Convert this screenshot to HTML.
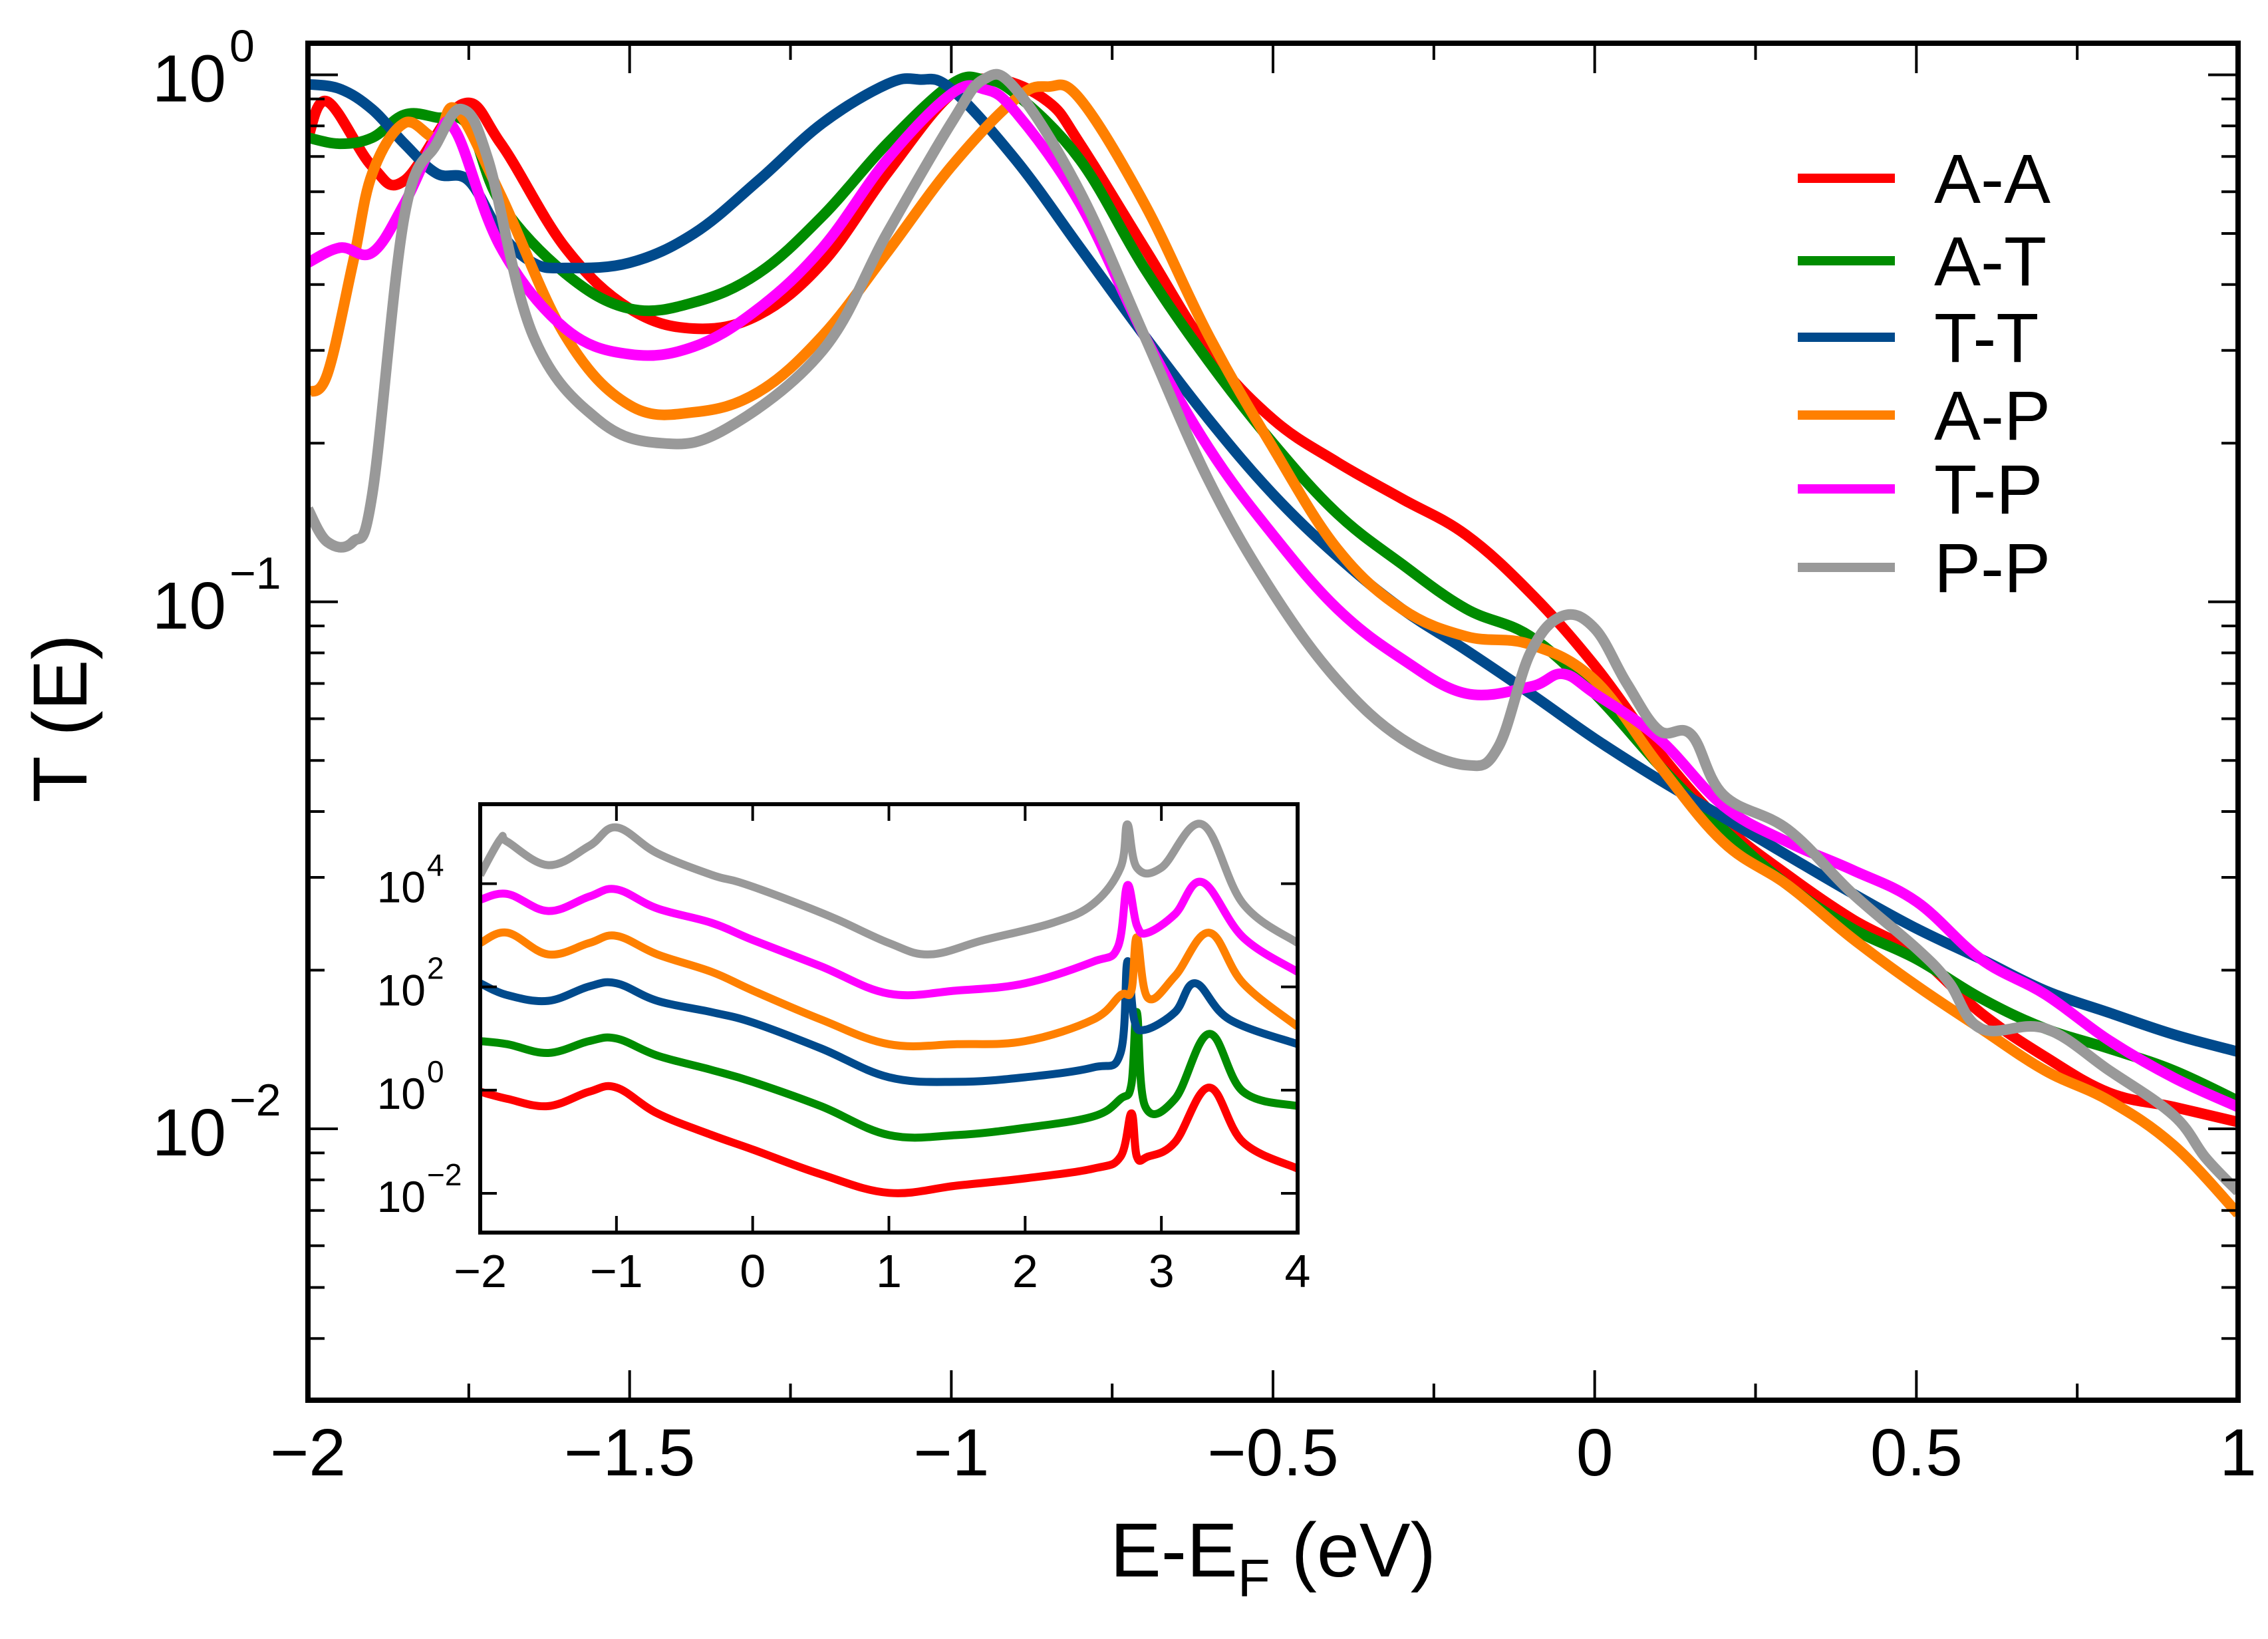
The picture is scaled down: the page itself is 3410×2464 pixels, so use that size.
<!DOCTYPE html>
<html><head><meta charset="utf-8"><style>
html,body{margin:0;padding:0;background:#fff;}
svg{display:block;font-family:"Liberation Sans",sans-serif;}
</style></head><body>
<svg id="chart" width="3410" height="2464" viewBox="0 0 3410 2464" xmlns="http://www.w3.org/2000/svg">
<g id="main"></g><g id="inset"></g>
</svg>
<script>
// ---------- main chart data ----------
const seriesNames = ["A-A","A-T","T-T","A-P","T-P","P-P"];
const seriesColors = ["#ff0000","#008c00","#004a8c","#ff8000","#ff00ff","#999999"];
const xAA = [-2,-1.97,-1.9,-1.85,-1.76,-1.7,-1.6,-1.5,-1.4,-1.3,-1.2,-1.1,-1.0,-0.93,-0.85,-0.8,-0.7,-0.6,-0.5,-0.4,-0.3,-0.2,-0.1,0,0.1,0.2,0.3,0.4,0.5,0.6,0.7,0.8,0.9,1.0];
const yAA = [0.76,0.89,0.67,0.63,0.88,0.74,0.47,0.36,0.33,0.35,0.44,0.65,0.92,0.98,0.89,0.74,0.47,0.30,0.222,0.184,0.157,0.134,0.104,0.0757,0.0518,0.0378,0.0303,0.025,0.0214,0.0166,0.0137,0.0117,0.011,0.0103];
const xAT = [-2,-1.95,-1.9,-1.85,-1.8,-1.75,-1.7,-1.6,-1.5,-1.4,-1.3,-1.2,-1.1,-1.0,-0.95,-0.9,-0.8,-0.7,-0.6,-0.5,-0.4,-0.3,-0.2,-0.1,0,0.1,0.2,0.3,0.4,0.5,0.6,0.7,0.8,0.9,1.0];
const yAT = [0.76,0.74,0.76,0.84,0.83,0.80,0.57,0.42,0.36,0.37,0.42,0.54,0.74,0.96,0.98,0.92,0.69,0.43,0.286,0.2,0.147,0.118,0.097,0.086,0.067,0.049,0.037,0.029,0.024,0.021,0.0177,0.0155,0.0142,0.0129,0.0113];
const xTT = [-2,-1.95,-1.9,-1.85,-1.8,-1.75,-1.7,-1.65,-1.6,-1.5,-1.4,-1.3,-1.2,-1.1,-1.05,-1.0,-0.9,-0.8,-0.7,-0.6,-0.5,-0.4,-0.3,-0.2,-0.1,0,0.1,0.2,0.3,0.4,0.5,0.6,0.7,0.8,0.9,1.0];
const yTT = [0.96,0.94,0.86,0.74,0.65,0.63,0.5,0.44,0.43,0.44,0.5,0.63,0.81,0.96,0.98,0.94,0.69,0.47,0.32,0.222,0.16,0.122,0.097,0.081,0.067,0.055,0.046,0.039,0.033,0.028,0.024,0.021,0.0183,0.0166,0.0151,0.014];
const xAP = [-2,-1.97,-1.93,-1.9,-1.85,-1.8,-1.77,-1.7,-1.6,-1.5,-1.4,-1.3,-1.2,-1.1,-1.0,-0.9,-0.85,-0.8,-0.7,-0.6,-0.5,-0.4,-0.3,-0.2,-0.1,0,0.1,0.2,0.3,0.4,0.5,0.6,0.7,0.8,0.9,1.0];
const yAP = [0.25,0.27,0.44,0.65,0.81,0.76,0.86,0.59,0.32,0.236,0.229,0.25,0.32,0.46,0.67,0.9,0.95,0.9,0.57,0.32,0.196,0.126,0.097,0.086,0.083,0.071,0.049,0.035,0.029,0.023,0.0187,0.0155,0.0129,0.0113,0.0093,0.0069];
const xTP = [-2,-1.95,-1.9,-1.85,-1.8,-1.77,-1.7,-1.6,-1.5,-1.4,-1.3,-1.2,-1.1,-1.0,-0.95,-0.9,-0.8,-0.7,-0.6,-0.5,-0.4,-0.3,-0.2,-0.1,-0.05,0,0.1,0.2,0.3,0.4,0.5,0.6,0.7,0.8,0.9,1.0];
const yTP = [0.44,0.47,0.46,0.57,0.76,0.78,0.47,0.33,0.295,0.305,0.36,0.47,0.69,0.92,0.94,0.85,0.57,0.32,0.196,0.134,0.097,0.078,0.067,0.069,0.073,0.067,0.055,0.041,0.035,0.031,0.027,0.021,0.018,0.0147,0.0125,0.011];
const xPP = [-2,-1.97,-1.93,-1.9,-1.85,-1.8,-1.76,-1.72,-1.65,-1.55,-1.45,-1.35,-1.2,-1.1,-1.0,-0.95,-0.9,-0.8,-0.7,-0.6,-0.5,-0.4,-0.3,-0.2,-0.15,-0.1,-0.05,0,0.05,0.1,0.15,0.2,0.3,0.4,0.5,0.55,0.6,0.7,0.8,0.9,0.95,1.0];
const yPP = [0.15,0.13,0.13,0.16,0.54,0.74,0.86,0.69,0.32,0.222,0.2,0.213,0.3,0.5,0.81,0.98,0.94,0.6,0.32,0.17,0.104,0.071,0.055,0.049,0.053,0.08,0.094,0.089,0.07,0.057,0.056,0.043,0.037,0.028,0.022,0.019,0.0155,0.0155,0.0129,0.0106,0.0088,0.0076];
const xTickLabels = ["-2","-1.5","-1","-0.5","0","0.5","1"];
const xTickValues = [-2,-1.5,-1,-0.5,0,0.5,1];
const yTickExps = [0,-1,-2];

// ---------- inset data (log10 T) ----------
const ixAA = [-2,-1.8,-1.5,-1.2,-1,-0.7,-0.3,0,0.5,1,1.5,2,2.5,2.7,2.78,2.82,2.9,3.1,3.35,3.6,4];
const iyAA = [-0.03,-0.17,-0.31,-0.03,0.05,-0.45,-0.87,-1.15,-1.63,-1.99,-1.85,-1.71,-1.52,-1.29,-0.45,-1.29,-1.29,-1.01,0.05,-1.01,-1.52];
const ixAT = [-2,-1.8,-1.5,-1.2,-1,-0.7,-0.3,0,0.5,1,1.5,2,2.5,2.7,2.78,2.82,2.88,3.1,3.35,3.6,4];
const iyAT = [0.95,0.89,0.72,0.95,1.0,0.67,0.39,0.16,-0.31,-0.87,-0.87,-0.73,-0.51,-0.17,0.11,1.51,-0.31,-0.17,1.09,-0.03,-0.31];
const ixTT = [-2,-1.8,-1.5,-1.2,-1,-0.7,-0.3,0,0.5,1,1.5,2,2.5,2.7,2.75,2.8,2.88,3.1,3.25,3.5,4];
const iyTT = [2.07,1.84,1.73,2.01,2.07,1.73,1.51,1.31,0.81,0.25,0.16,0.25,0.44,0.72,2.49,1.37,1.17,1.51,2.07,1.37,0.89];
const ixAP = [-2,-1.8,-1.5,-1.2,-1,-0.7,-0.3,0,0.5,1,1.5,2,2.5,2.7,2.78,2.82,2.9,3.1,3.35,3.6,4];
const iyAP = [2.85,3.05,2.63,2.85,2.99,2.63,2.29,1.93,1.37,0.89,0.89,0.95,1.37,1.84,1.93,2.96,1.79,2.21,3.05,2.07,1.23];
const ixTP = [-2,-1.8,-1.5,-1.2,-1,-0.7,-0.3,0,0.5,1,1.5,2,2.5,2.68,2.75,2.82,2.9,3.1,3.3,3.6,4];
const iyTP = [3.69,3.80,3.47,3.75,3.89,3.52,3.24,2.91,2.40,1.87,1.93,2.07,2.49,2.77,3.97,3.19,3.05,3.41,4.03,2.96,2.29];
const ixPP = [-2,-1.85,-1.8,-1.5,-1.2,-1,-0.7,-0.3,-0.1,0.2,0.6,1,1.3,1.7,2.2,2.5,2.7,2.75,2.82,3.0,3.3,3.6,4];
const iyPP = [4.17,4.87,4.81,4.36,4.73,5.09,4.59,4.17,4.03,3.75,3.33,2.85,2.63,2.91,3.24,3.61,4.31,5.15,4.31,4.31,5.15,3.61,2.85];
const insetXTicks = [-2,-1,0,1,2,3,4];
const insetYExps = [4,2,0,-2];

const NS = "http://www.w3.org/2000/svg";
function mk(parent, tag, attrs){const e=document.createElementNS(NS,tag);for(const k in attrs)e.setAttribute(k,attrs[k]);parent.appendChild(e);return e;}
function smooth(pts){
  let d='M'+pts[0][0].toFixed(1)+','+pts[0][1].toFixed(1);
  for(let i=0;i<pts.length-1;i++){
    const p0=pts[Math.max(0,i-1)],p1=pts[i],p2=pts[i+1],p3=pts[Math.min(pts.length-1,i+2)];
    const t=0.18;
    const c1x=p1[0]+(p2[0]-p0[0])*t, c1y=p1[1]+(p2[1]-p0[1])*t;
    const c2x=p2[0]-(p3[0]-p1[0])*t, c2y=p2[1]-(p3[1]-p1[1])*t;
    d+=' C'+c1x.toFixed(1)+','+c1y.toFixed(1)+' '+c2x.toFixed(1)+','+c2y.toFixed(1)+' '+p2[0].toFixed(1)+','+p2[1].toFixed(1);
  }
  return d;
}

// main axes
const L=463,R=3365,T=65,B=2105;
const xMin=-2,xMax=1, yTop=0.06, yBot=-2.515;
const xs=v=>L+(v-xMin)/(xMax-xMin)*(R-L);
const ys=v=>T+(yTop-Math.log10(v))/(yTop-yBot)*(B-T);
const main=document.getElementById('main');

const mainX=[xAA,xAT,xTT,xAP,xTP,xPP], mainY=[yAA,yAT,yTT,yAP,yTP,yPP];
const clip=mk(main,'clipPath',{id:'mclip'}); mk(clip,'rect',{x:L,y:T,width:R-L,height:B-T});
const lines=mk(main,'g',{'clip-path':'url(#mclip)'});
for(let s=0;s<6;s++){
  const pts=mainX[s].map((x,i)=>[xs(x),ys(mainY[s][i])]);
  const p=mk(lines,'path',{d:smooth(pts),fill:'none',stroke:seriesColors[s],'stroke-width':16,'stroke-linejoin':'round'});
  
  
}
const frame=mk(main,'rect',{x:L,y:T,width:R-L,height:B-T,fill:'none',stroke:'#000','stroke-width':8});


for(let k=0;k<=12;k++){
  const v=xMin+k*0.25, X=xs(v), len=(k%2===0)?45:25;
  mk(main,'line',{x1:X,y1:B,x2:X,y2:B-len,stroke:'#000','stroke-width':4});
  mk(main,'line',{x1:X,y1:T,x2:X,y2:T+len,stroke:'#000','stroke-width':4});
}
xTickValues.forEach((v,i)=>{
  const t=mk(main,'text',{x:xs(v),y:2218,'font-size':100,'text-anchor':'middle'});
  t.textContent=xTickLabels[i].replace('-','\u2212');
  
  
});
for(let e=-3;e<=0;e++){
  for(let m=1;m<=9;m++){
    const v=m*Math.pow(10,e); const lv=Math.log10(v);
    if(lv>yTop||lv<yBot)continue;
    const Y=ys(v), len=(m===1)?45:25;
    mk(main,'line',{x1:L,y1:Y,x2:L+len,y2:Y,stroke:'#000','stroke-width':4});
    mk(main,'line',{x1:R,y1:Y,x2:R-len,y2:Y,stroke:'#000','stroke-width':4});
  }
}
yTickExps.forEach(e=>{
  const t=mk(main,'text',{x:340,y:ys(Math.pow(10,e))+40,'font-size':100,'text-anchor':'end'});
  t.textContent='10';
  
  
  const s=mk(main,'text',{x:345,y:ys(Math.pow(10,e))-20,'font-size':68,'text-anchor':'start'});
  s.textContent=(e<0?'\u2212'+(-e):''+e);
});
const xt=mk(main,'text',{x:1914,y:2370,'font-size':115,'text-anchor':'middle'});
xt.innerHTML='E-E<tspan font-size="80" dy="30">F</tspan><tspan dy="-30"> (eV)</tspan>';


const yt=mk(main,'text',{x:0,y:0,'font-size':115,'text-anchor':'middle',transform:'translate(130,1080) rotate(-90)'});
yt.textContent='T (E)';


const legY=[268,392,507,624,735,853];
for(let s=0;s<6;s++){
  const g=mk(main,'g',{});
  
  
  mk(g,'line',{x1:2703,y1:legY[s],x2:2849,y2:legY[s],stroke:seriesColors[s],'stroke-width':14});
  const t=mk(g,'text',{x:2908,y:legY[s]+37,'font-size':105});
  t.textContent=seriesNames[s];
}

// inset
const iL=722,iR=1951,iT=1209,iB=1853, ixMin=-2,ixMax=4, iyTop=5.54, iyBot=-2.76;
const ixs=v=>iL+(v-ixMin)/(ixMax-ixMin)*(iR-iL);
const iys=v=>iT+(iyTop-v)/(iyTop-iyBot)*(iB-iT);
const inset=document.getElementById('inset');


mk(inset,'rect',{x:iL,y:iT,width:iR-iL,height:iB-iT,fill:'#fff'});
const ic=mk(inset,'clipPath',{id:'iclip'}); mk(ic,'rect',{x:iL,y:iT,width:iR-iL,height:iB-iT});
const ig=mk(inset,'g',{'clip-path':'url(#iclip)'});
const insX=[ixAA,ixAT,ixTT,ixAP,ixTP,ixPP], insY=[iyAA,iyAT,iyTT,iyAP,iyTP,iyPP];
for(let s=0;s<6;s++){
  const pts=insX[s].map((x,i)=>[ixs(x),iys(insY[s][i])]);
  const p=mk(ig,'path',{d:smooth(pts),fill:'none',stroke:seriesColors[s],'stroke-width':12,'stroke-linejoin':'round'});
  
  
}
mk(inset,'rect',{x:iL,y:iT,width:iR-iL,height:iB-iT,fill:'none',stroke:'#000','stroke-width':6});
insetXTicks.forEach(v=>{
  const X=ixs(v);
  mk(inset,'line',{x1:X,y1:iB,x2:X,y2:iB-25,stroke:'#000','stroke-width':4});
  mk(inset,'line',{x1:X,y1:iT,x2:X,y2:iT+25,stroke:'#000','stroke-width':4});
  const t=mk(inset,'text',{x:X,y:1935,'font-size':70,'text-anchor':'middle'});
  t.textContent=(v<0?'\u2212'+(-v):''+v);
  
  
});
insetYExps.forEach(e=>{
  const Y=iys(e);
  mk(inset,'line',{x1:iL,y1:Y,x2:iL+25,y2:Y,stroke:'#000','stroke-width':4});
  mk(inset,'line',{x1:iR,y1:Y,x2:iR-25,y2:Y,stroke:'#000','stroke-width':4});
  const t=mk(inset,'text',{x:640,y:Y+28,'font-size':66,'text-anchor':'end'});
  t.textContent='10';
  
  
  const s=mk(inset,'text',{x:642,y:Y-12,'font-size':46});
  s.textContent=(e<0?'\u2212'+(-e):''+e);
});
</script>
</body></html>
